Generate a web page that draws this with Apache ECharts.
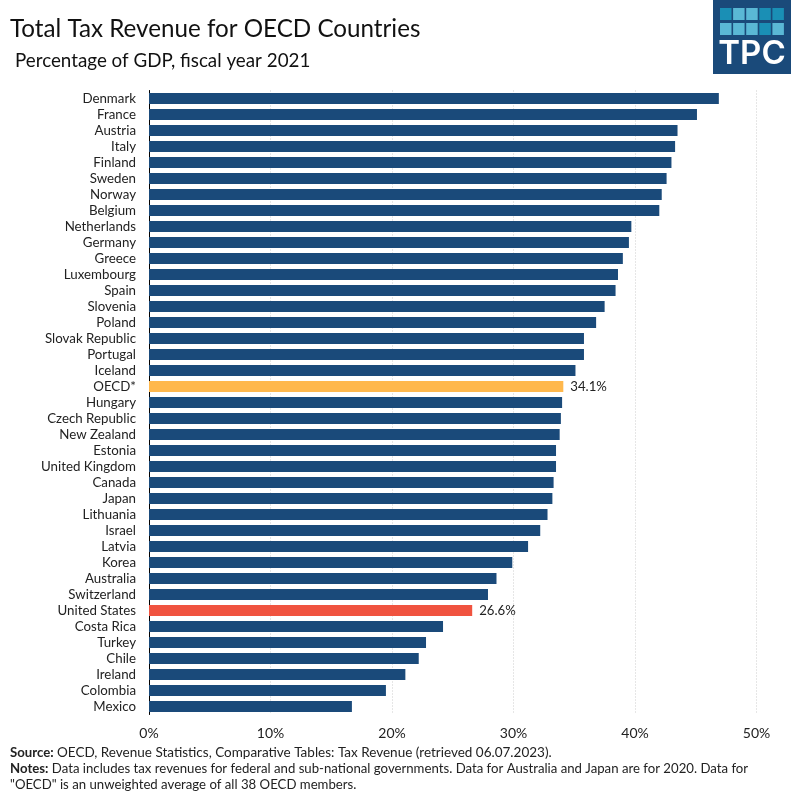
<!DOCTYPE html>
<html>
<head>
<meta charset="utf-8">
<title>Total Tax Revenue for OECD Countries</title>
<style>
html,body{margin:0;padding:0;background:#fff;}
#chart{width:791px;height:797px;}
</style>
<script src="https://cdn.jsdelivr.net/npm/echarts@6/dist/echarts.min.js"></script>
</head>
<body>
<div id="chart"></div>
<script>
var countries=["Denmark","France","Austria","Italy","Finland","Sweden","Norway","Belgium","Netherlands","Germany","Greece","Luxembourg","Spain","Slovenia","Poland","Slovak Republic","Portugal","Iceland","OECD*","Hungary","Czech Republic","New Zealand","Estonia","United Kingdom","Canada","Japan","Lithuania","Israel","Latvia","Korea","Australia","Switzerland","United States","Costa Rica","Turkey","Chile","Ireland","Colombia","Mexico"];
var revenue=[46.9,45.1,43.5,43.3,43.0,42.6,42.2,42.0,39.7,39.5,39.0,38.6,38.4,37.5,36.8,35.8,35.8,35.1,34.1,34.0,33.9,33.8,33.5,33.5,33.3,33.2,32.8,32.2,31.2,29.9,28.6,27.9,26.6,24.2,22.8,22.2,21.1,19.5,16.7];
var logoRow1=['#1a8fb5','#5ab8d5','#5ab8d5','#1a8fb5','#1a8fb5'];
var logoRow2=['#5ab8d5','#5ab8d5','#5ab8d5','#1a8fb5','#5ab8d5'];

var font='Lato';
var navy='#1a4a7a';
var highlight={'OECD*':'#ffb84d','United States':'#f0533f'};

var barData=countries.map(function(name,i){
  var item={value:revenue[i],itemStyle:{color:highlight[name]||navy}};
  if(highlight[name]){
    item.label={show:true,position:'right',distance:7,formatter:revenue[i].toFixed(1)+'%',fontFamily:font,fontSize:13.2,color:'#222'};
  }
  return item;
});

// logo squares
var logo=[{type:'rect',shape:{x:713,y:0,width:78,height:74},style:{fill:navy}}];
[logoRow1,logoRow2].forEach(function(row,r){
  row.forEach(function(c,i){
    logo.push({type:'rect',shape:{x:720+i*13.1,y:8+r*15,width:11.5,height:12},style:{fill:c}});
  });
});
logo.push({type:'text',x:752,y:54,style:{text:'TPC',fill:'#fff',font:'600 33px Inter',align:'center',verticalAlign:'middle'}});

var myChart=echarts.init(document.getElementById('chart'),null,{renderer:'canvas'});
myChart.setOption({
  animation:false,
  backgroundColor:'#fff',
  title:[
    {text:'Total Tax Revenue for OECD Countries',left:10,top:17,padding:0,textStyle:{fontFamily:font,fontSize:24.2,fontWeight:'normal',color:'#111'}},
    {text:'Percentage of GDP, fiscal year 2021',left:15,top:51,padding:0,textStyle:{fontFamily:font,fontSize:18.8,fontWeight:'normal',color:'#111'}}
  ],
  grid:{left:149,top:90.5,width:607.5,height:624,containLabel:false},
  xAxis:{
    type:'value',min:0,max:50,interval:10,
    axisLine:{show:false},axisTick:{show:false},
    axisLabel:{margin:12,fontFamily:font,fontSize:14,color:'#222',formatter:'{value}%'},
    splitLine:{show:true,lineStyle:{color:'#cccccc',type:[1,2],width:1}}
  },
  yAxis:{
    type:'category',data:countries,inverse:true,
    axisLine:{show:true,lineStyle:{color:'#000',width:1}},axisTick:{show:false},
    axisLabel:{margin:13,fontFamily:font,fontSize:13.3,color:'#222',interval:0}
  },
  series:[{type:'bar',data:barData,barWidth:11,z:3}],
  graphic:logo.concat([
    {type:'text',x:10,y:745,style:{
      text:'{b|Source:} {s|OECD, Revenue Statistics, Comparative Tables: Tax Revenue (retrieved 06.07.2023).}\n{b|Notes:} Data includes tax revenues for federal and sub-national governments. Data for Australia and Japan are for 2020. Data for\n"OECD" is an unweighted average of all 38 OECD members.',
      font:'13.2px Lato',fill:'#222',lineHeight:16,
      rich:{
        b:{fontFamily:font,fontSize:13.2,fontWeight:'bold',fill:'#222',lineHeight:16},
        s:{fontFamily:font,fontSize:13.5,fill:'#222',lineHeight:16}
      }
    }}
  ])
});
</script>
</body>
</html>
